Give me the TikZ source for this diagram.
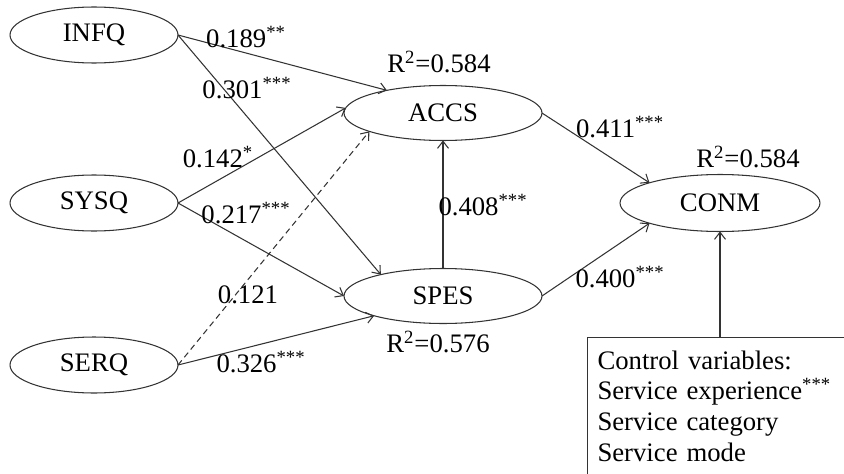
\documentclass[tikz,border=0pt]{standalone}
\usepackage{fontspec}
\setmainfont{Liberation Serif}
\usetikzlibrary{arrows.meta, positioning, shapes}

\begin{document}
\begin{tikzpicture}[x=0.02cm, y=-0.02cm,
    font=\fontsize{15.2}{17.6}\selectfont,
    latent/.style={draw=black!80, line width=0.6pt, ellipse, minimum width=3.36cm, minimum height=1.12cm, inner sep=0pt, outer sep=0pt},
    latentbig/.style={latent, minimum width=3.96cm, minimum height=1.1cm},
    link/.style={-{Straight Barb[length=0.14cm, width=0.22cm]}, line width=0.6pt, draw=black!80},
    coef/.style={inner sep=0pt}]
    \clip (0,0) rectangle (844,473);

    % Exogenous constructs
    \node[latent] (infq) at (94,35) {INFQ};
    \node[latent] (sysq) at (94,203) {SYSQ};
    \node[latent] (serq) at (94,365) {SERQ};

    % Mediators and outcome
    \node[latentbig] (accs) at (443,113) {ACCS};
    \node[latentbig] (spes) at (443,296) {SPES};
    \node[latentbig, minimum width=4cm, minimum height=1.14cm] (conm) at (720,203) {CONM};
    \node[coef] (r2accs) at (439,62) {R\textsuperscript{2}=0.584};
    \node[coef] (r2spes) at (438,342) {R\textsuperscript{2}=0.576};
    \node[coef] (r2conm) at (748,157) {R\textsuperscript{2}=0.584};

    % Control variables
    \node[draw=black!80, line width=0.6pt, anchor=north west, text width=5.4cm, align=left,
          inner xsep=0.2cm, inner ysep=0.26cm, font=\fontsize{15.2}{17.6}\selectfont] (ctrl) at (587,337)
        {Control variables:\\ Service experience\textsuperscript{***}\\ Service category\\ Service mode};

    % Paths
    \draw[link] (infq.east) -- (accs.158);
    \draw[link] (infq.east) -- (spes.161);
    \draw[link] (sysq.east) -- (accs.177);
    \draw[link] (sysq.east) -- (spes.west);
    \draw[link, dash pattern=on 3.4pt off 2.3pt] (serq.east) -- (accs.-166);
    \draw[link] (serq.east) -- (spes.-164);
    \draw[link] (spes.north) -- (accs.south);
    \draw[link] (accs.east) -- (conm.164);
    \draw[link] (spes.east) -- (conm.-164);
    \draw[link] (ctrl.north -| conm.south) -- (conm.south);

    % Coefficients
    \node[coef] (c1) at (246,37) {0.189\textsuperscript{**}};
    \node[coef] (c2) at (247,88) {0.301\textsuperscript{***}};
    \node[coef] (c3) at (218,157) {0.142\textsuperscript{*}};
    \node[coef] (c4) at (246,213) {0.217\textsuperscript{***}};
    \node[coef] (c5) at (248,295) {0.121};
    \node[coef] (c6) at (261,362) {0.326\textsuperscript{***}};
    \node[coef] (c7) at (483,205) {0.408\textsuperscript{***}};
    \node[coef] (c8) at (620,127) {0.411\textsuperscript{***}};
    \node[coef] (c9) at (620,277) {0.400\textsuperscript{***}};
\end{tikzpicture}
\end{document}
